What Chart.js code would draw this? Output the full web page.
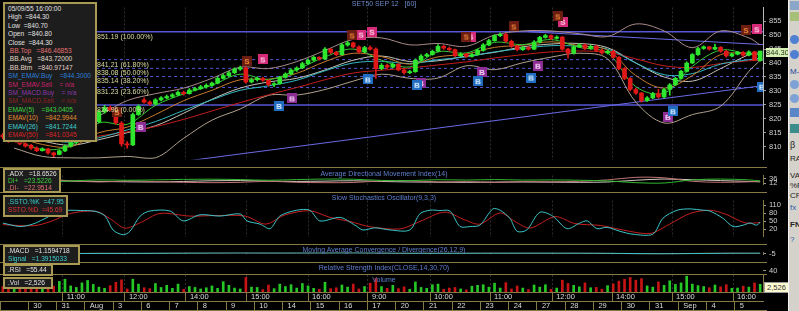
<!DOCTYPE html>
<html>
<head>
<meta charset="utf-8">
<title>SET50 SEP 12 [60]</title>
<script src="https://cdn.jsdelivr.net/npm/chart.js@4.4.1/dist/chart.umd.min.js"></script>
<style>
  html, body { margin: 0; padding: 0; background: #000; }
  body { width: 799px; height: 311px; position: relative; overflow: hidden; font-family: 'Liberation Sans', Arial, sans-serif; }
  canvas { position: absolute; left: 0; }
  .sep { position: absolute; left: 0; width: 767px; height: 1px; background: #857a45; z-index: 3; }
  .box { position: absolute; left: 3px; background: #1d1d1d; border: 2px solid #a89a55; font-size: 6.6px; line-height: 8.4px; padding: 0 3px; white-space: pre; color: #e2e2e2; z-index: 5; overflow: hidden; }
  .ttl { position: absolute; left: 0; width: 768px; text-align: center; font-size: 7px; color: #5f7fcf; z-index: 4; white-space: nowrap; }
  .tag { position: absolute; font-size: 7.5px; line-height: 9px; text-align: center; z-index: 5; }
  #side { position: absolute; left: 788px; top: 0; width: 11px; height: 311px; background: #d5d2cb; border-left: 1px solid #f2f2f2; overflow: hidden; z-index: 6; }
  #side i { position: absolute; left: 1px; width: 9px; height: 9px; }
  #side b { position: absolute; left: 1px; font-size: 8px; font-weight: normal; color: #222; white-space: nowrap; }
</style>
</head>
<body>
<canvas id="cMain" width="788" height="167" style="top:0"></canvas>
<canvas id="cAdx" width="788" height="24" style="top:168px"></canvas>
<canvas id="cSto" width="788" height="51" style="top:193px"></canvas>
<canvas id="cMacd" width="788" height="17" style="top:245px"></canvas>
<canvas id="cRsi" width="788" height="11" style="top:263px"></canvas>
<canvas id="cVol" width="788" height="36" style="top:275px"></canvas>

<div class="sep" style="top:167px"></div>
<div class="sep" style="top:192px"></div>
<div class="sep" style="top:244px"></div>
<div class="sep" style="top:262px"></div>
<div class="sep" style="top:274px"></div>
<div class="sep" style="top:310px"></div>

<div class="ttl" style="top:0px;color:#6a88c8">SET50 SEP 12&nbsp;&nbsp;&nbsp;[60]</div>
<div class="ttl" style="top:170px">Average Directional Movement Index(14)</div>
<div class="ttl" style="top:194px">Slow Stochastics Oscillator(9,3,3)</div>
<div class="ttl" style="top:246px">Moving Average Convergence / Divergence(26,12,9)</div>
<div class="ttl" style="top:264px">Relative Strength Index(CLOSE,14,30,70)</div>
<div class="ttl" style="top:276px">Volume</div>

<div class="box" style="top:2px;width:84px;height:135px;padding-top:1px"><div>05/09/55 16:00:00</div><div>High  =844.30</div><div>Low  =840.70</div><div>Open  =840.80</div><div>Close  =844.30</div><div style="color:#e27070">.BB.Top   =846.46853</div><div style="color:#e4dccb">.BB.Avg   =843.72000</div><div style="color:#e4d0c8">.BB.Btm   =840.97147</div><div style="color:#2c7ed8">SM_EMAV.Buy    =844.3000</div><div style="color:#c8226c">SM_EMAV.Sell    = n/a</div><div style="color:#8a38a8">SM_MACD.Buy    = n/a</div><div style="color:#8c2222">SM_MACD.Sell    = n/a</div><div style="color:#3ed23e">EMAV(5)    =843.0405</div><div style="color:#e08a30">EMAV(10)    =842.9944</div><div style="color:#3ed0d0">EMAV(26)    =841.7244</div><div style="color:#d82424">EMAV(50)    =841.0345</div></div>
<div class="box" style="top:168px;width:48px;height:21px;line-height:7px;padding-top:0"><div>.ADX   =18.6526</div><div style="color:#3ed23e">DI+   =23.5226</div><div style="color:#e07070">.DI-   =22.9514</div></div>
<div class="box" style="top:195px;width:55px;height:17px;padding-top:1px"><div style="color:#3ed0d0">.SSTO.%K  =47.95</div><div style="color:#e03030">SSTO.%D  =45.69</div></div>
<div class="box" style="top:245px;width:67px;height:16px;padding-top:0"><div>.MACD   =1.1594718</div><div style="color:#3ed0d0">Signal   =1.3915033</div></div>
<div class="box" style="top:264px;width:40px;height:8px;line-height:8px"><div>.RSI   =55.44</div></div>
<div class="box" style="top:277px;width:40px;height:8px;line-height:8px"><div>.Vol   =2,526</div></div>

<div class="tag" style="left:766px;top:48px;width:22px;height:9px;background:#d6f0b4;color:#1e3018">844.30</div>
<div class="tag" style="left:764px;top:282px;width:23px;height:9px;background:#fffbd0;color:#333;border:1px solid #999">2,526</div>

<div id="side">
  <i style="top:1px;background:#8aa6c8"></i>
  <i style="top:12px;background:#a6c07a"></i>
  <i style="top:35px;background:#4f7fd0;border-radius:5px"></i>
  <i style="top:50px;background:#4f7fd0;border-radius:5px"></i>
  <b style="top:67px;color:#2044a0">M-</b>
  <i style="top:80px;background:#7ea2d6;border-radius:5px"></i>
  <i style="top:94px;background:#7ea2d6;border-radius:5px"></i>
  <i style="top:108px;background:#5a86c8"></i>
  <i style="top:124px;background:#3c8c8c"></i>
  <b style="top:140px;font-size:9px">β</b>
  <b style="top:154px">RA</b>
  <b style="top:171px">VA</b>
  <b style="top:181px">%P</b>
  <b style="top:191px">CP</b>
  <b style="top:203px;color:#2c5aa8">fx</b>
  <b style="top:220px;font-weight:bold">FN</b>
  <b style="top:235px;color:#2c5aa8">?</b>
</div>

<script>
// hourly candles, 5 per trading day (27 Jul .. 5 Sep)
const opens = [
  814.2, 813.5, 812.0, 812.8, 811.0,
  810.5, 809.5, 808.6, 809.2, 807.8,
  807.2, 808.5, 810.2, 811.5, 812.0,
  814.0, 816.0, 819.0, 822.5, 824.0,
  823.0, 818.5, 811.0, 810.6, 821.5,
  826.8, 826.0, 825.3, 826.8, 827.5,
  828.0, 828.6, 829.5, 829.0, 830.3,
  830.8, 831.5, 832.0, 832.8, 834.5,
  835.5, 836.5, 837.8, 838.3, 833.2,
  834.0, 834.5, 833.8, 832.2, 832.6,
  834.8, 836.0, 837.5, 838.2, 839.8,
  841.0, 842.0, 841.5, 845.0, 843.8,
  843.0, 846.5, 847.2, 845.8, 844.0,
  845.5, 845.0, 838.0, 839.2, 838.5,
  839.5, 837.5, 836.5, 836.9, 841.0,
  842.5, 843.0, 844.2, 846.0, 845.3,
  844.8, 842.6, 843.2, 842.4, 843.0,
  844.5, 846.5, 848.0, 849.8, 850.3,
  847.8, 846.0, 844.8, 845.5, 845.0,
  847.5, 849.2, 849.8, 848.8, 849.3,
  845.0, 843.5, 845.8, 846.5, 845.2,
  846.0, 844.5, 843.6, 844.2, 842.0,
  838.0, 834.5, 830.5, 829.2, 826.5,
  827.5, 829.0, 827.8, 830.5, 832.2,
  834.5, 837.0, 840.0, 843.0, 845.2,
  845.8, 845.0, 845.6, 844.2, 842.5,
  843.2, 843.8, 842.8, 844.0, 840.8
];
const highs = [
  814.8, 813.9, 813.2, 813.0, 811.4,
  810.8, 809.9, 809.6, 809.4, 808.1,
  808.9, 810.6, 811.9, 812.6, 814.0,
  816.5, 819.5, 823.0, 824.8, 824.6,
  823.4, 819.0, 811.8, 822.0, 825.0,
  827.5, 826.4, 827.2, 828.0, 828.5,
  829.0, 830.0, 829.9, 830.8, 831.3,
  832.0, 832.5, 833.2, 835.0, 836.0,
  837.0, 838.3, 838.9, 838.6, 834.6,
  835.0, 834.9, 834.0, 833.0, 835.2,
  836.5, 837.9, 838.6, 840.3, 841.5,
  842.5, 842.3, 845.5, 845.3, 844.2,
  847.0, 847.8, 847.5, 846.2, 846.0,
  846.2, 845.4, 839.8, 839.6, 840.0,
  839.8, 837.9, 837.4, 841.5, 843.0,
  843.5, 844.6, 846.6, 846.3, 845.7,
  845.0, 843.7, 843.5, 843.5, 845.0,
  847.0, 848.5, 850.2, 850.8, 850.6,
  848.2, 846.4, 846.0, 845.9, 848.0,
  849.6, 850.3, 850.1, 849.7, 849.6,
  845.3, 846.2, 847.0, 846.8, 846.4,
  846.3, 844.9, 844.6, 844.5, 842.3,
  838.4, 834.8, 831.0, 829.5, 828.0,
  829.5, 830.6, 830.9, 832.6, 834.9,
  837.4, 840.4, 843.4, 845.6, 846.2,
  846.0, 846.8, 845.9, 844.5, 843.6,
  844.2, 844.1, 844.4, 844.3, 844.3
];
const lows = [
  812.9, 811.5, 811.8, 810.6, 809.8,
  809.0, 808.2, 808.4, 807.3, 806.4,
  807.0, 808.2, 809.8, 811.0, 811.8,
  813.8, 815.6, 818.6, 822.0, 822.8,
  818.0, 810.2, 809.5, 810.4, 821.2,
  825.6, 824.8, 825.0, 826.4, 827.1,
  827.6, 828.3, 828.5, 828.8, 830.0,
  830.5, 831.0, 831.6, 832.5, 834.2,
  835.2, 836.2, 837.3, 832.8, 832.9,
  833.6, 833.4, 831.8, 831.5, 832.4,
  834.6, 835.7, 837.0, 838.0, 839.5,
  840.7, 841.0, 841.2, 843.3, 842.6,
  842.8, 846.0, 845.4, 843.5, 843.7,
  844.6, 834.5, 837.6, 838.0, 838.2,
  837.2, 836.0, 836.2, 836.6, 840.7,
  842.2, 842.8, 844.0, 844.9, 844.3,
  842.2, 842.3, 842.0, 842.1, 842.7,
  844.2, 846.2, 847.7, 849.4, 847.4,
  845.6, 844.3, 844.5, 844.6, 844.8,
  847.2, 848.9, 848.4, 848.5, 844.6,
  841.8, 843.2, 845.5, 844.8, 844.9,
  844.1, 843.2, 843.3, 841.6, 837.5,
  834.0, 830.0, 828.7, 826.0, 826.2,
  827.2, 827.4, 827.5, 828.5, 831.9,
  834.2, 836.8, 839.8, 842.7, 844.9,
  844.6, 844.7, 843.8, 842.1, 842.2,
  842.9, 842.4, 842.5, 840.8, 840.7
];
const closes = [
  813.5, 812.0, 812.8, 811.0, 810.2,
  809.5, 808.6, 809.2, 807.8, 807.0,
  808.5, 810.2, 811.5, 812.0, 813.6,
  816.0, 819.0, 822.5, 824.0, 823.2,
  818.5, 811.0, 810.6, 821.5, 824.5,
  826.0, 825.3, 826.8, 827.5, 828.0,
  828.6, 829.5, 829.0, 830.3, 830.8,
  831.5, 832.0, 832.8, 834.5, 835.5,
  836.5, 837.8, 838.3, 833.2, 834.0,
  834.5, 833.8, 832.2, 832.6, 834.8,
  836.0, 837.5, 838.2, 839.8, 841.0,
  842.0, 841.5, 845.0, 843.8, 843.0,
  846.5, 847.2, 845.8, 844.0, 845.5,
  845.0, 838.0, 839.2, 838.5, 839.5,
  837.5, 836.5, 836.9, 841.0, 842.5,
  843.0, 844.2, 846.0, 845.3, 844.8,
  842.6, 843.2, 842.4, 843.0, 844.5,
  846.5, 848.0, 849.8, 850.3, 847.8,
  846.0, 844.8, 845.5, 845.0, 847.5,
  849.2, 849.8, 848.8, 849.3, 845.0,
  843.5, 845.8, 846.5, 845.2, 846.0,
  844.5, 843.6, 844.2, 842.0, 838.0,
  834.5, 830.5, 829.2, 826.5, 827.5,
  829.0, 827.8, 830.5, 832.2, 834.5,
  837.0, 840.0, 843.0, 845.2, 845.8,
  845.0, 845.6, 844.2, 842.5, 843.2,
  843.8, 842.8, 844.0, 841.2, 844.3
];
const volumes = [
  1800, 2600, 1200, 2200, 3000,
  1500, 2800, 1000, 2400, 1900,
  3500, 4200, 2000, 1500, 3000,
  3800, 2500, 1600, 1200, 2100,
  3200, 4000, 1000, 4200, 2600,
  1400, 1100, 2800, 1500, 2200,
  1200, 2600, 900, 1800, 1500,
  1000, 1400, 2000, 1200, 3400,
  2200, 1300, 1000, 4800, 1600,
  1500, 800, 2300, 1100, 2600,
  1800, 2400, 1300, 2800, 2000,
  1200, 900, 3200, 1100, 1400,
  2300, 1600, 2600, 1000, 1800,
  2900, 4400, 1800, 1200, 2200,
  1100, 1700, 900, 3300, 1500,
  1200, 2400, 2600, 900, 1300,
  1500, 1000, 700, 1900, 2200,
  2400, 1600, 2900, 1300, 3100,
  1000, 2000, 1300, 800, 2300,
  1600, 2400, 900, 1300, 3900,
  2800, 2200, 1700, 3000, 1400,
  1500, 900, 2100, 2700, 3600,
  4200, 4800, 3900, 4400, 2000,
  1600, 3300, 2200, 3700, 2500,
  3000, 5200, 2600, 2100, 1800,
  1400, 2300, 1700, 2400, 1200,
  1300, 1900, 1600, 3000, 2526
];

// indicator samples: one per day (mid-day bar) plus the last bar
const sampleBars = [2, 7, 12, 17, 22, 27, 32, 37, 42, 47, 52, 57, 62, 67, 72, 77, 82, 87, 92, 97, 102, 107, 112, 117, 122, 127, 132, 134];
const ema5  = [812.8, 809.0, 810.5, 818.5, 818.0, 824.8, 828.9, 832.0, 836.0, 834.0, 837.6, 842.2, 845.0, 841.0, 838.6, 844.0, 843.6, 847.4, 846.6, 848.4, 845.6, 843.6, 831.5, 829.2, 838.8, 844.6, 843.2, 843.04];
const ema10 = [813.8, 810.8, 810.0, 815.0, 817.0, 821.5, 826.5, 830.2, 834.0, 834.2, 836.3, 840.5, 843.5, 842.3, 839.6, 842.2, 843.2, 845.6, 846.4, 847.6, 846.2, 844.6, 835.5, 831.0, 835.5, 843.0, 843.3, 842.99];
const ema26 = [814.5, 812.8, 811.6, 813.2, 816.0, 819.0, 823.0, 826.8, 830.2, 831.8, 833.8, 837.2, 840.0, 840.6, 839.8, 841.2, 842.2, 844.0, 845.2, 846.2, 846.0, 845.0, 840.0, 835.8, 836.2, 839.6, 841.2, 841.72];
const ema50 = [812.5, 812.0, 812.0, 813.8, 815.3, 817.2, 819.8, 822.8, 825.8, 828.6, 831.2, 834.0, 836.4, 837.4, 838.2, 839.3, 840.4, 841.8, 843.0, 844.0, 844.3, 843.8, 841.5, 839.0, 838.4, 839.8, 840.8, 841.03];
const bbTop = [818.5, 817.0, 815.5, 821.0, 826.5, 829.0, 831.0, 834.5, 838.5, 838.0, 840.5, 844.5, 848.5, 849.0, 846.5, 847.0, 846.0, 850.0, 851.5, 851.5, 850.5, 849.5, 854.0, 851.5, 845.5, 851.5, 849.0, 846.47];
const bbAvg = [814.0, 812.0, 810.5, 812.5, 815.0, 817.5, 822.0, 827.0, 831.0, 833.2, 834.5, 837.5, 841.0, 842.5, 840.5, 840.8, 842.5, 843.8, 845.8, 846.8, 847.0, 845.5, 840.0, 835.0, 833.5, 838.0, 843.0, 843.72];
const bbBtm = [809.5, 806.5, 806.0, 806.0, 806.5, 806.0, 813.0, 819.5, 823.5, 828.4, 828.5, 830.5, 833.5, 836.0, 834.5, 834.6, 839.0, 837.6, 840.1, 842.1, 843.5, 841.5, 826.0, 818.5, 821.5, 824.5, 837.0, 840.97];
const adx     = [24, 26, 23, 21, 19, 18, 21, 25, 26, 23, 21, 23, 25, 21, 18, 17, 16, 17, 18, 17, 16, 18, 28, 35, 31, 26, 21, 18.65];
const diPlus  = [22, 18, 24, 30, 28, 30, 33, 34, 32, 28, 32, 35, 34, 27, 26, 31, 29, 32, 29, 30, 28, 24, 14, 12, 30, 35, 30, 23.52];
const diMinus = [30, 34, 25, 18, 24, 20, 16, 14, 16, 22, 16, 14, 15, 24, 25, 18, 20, 16, 20, 19, 22, 30, 45, 42, 22, 16, 19, 22.95];
const macd    = [-1.5, -2.5, -2.0, 0.5, -0.5, 1.0, 2.2, 2.8, 3.2, 2.5, 2.8, 3.2, 3.5, 1.5, 0.2, 1.0, 1.0, 1.8, 1.6, 1.5, 0.9, -0.5, -4.0, -4.6, -1.0, 1.8, 1.6, 1.16];
const signal  = [-1.0, -1.8, -2.2, -1.0, -0.4, 0.2, 1.3, 2.2, 2.8, 2.8, 2.7, 3.0, 3.3, 2.5, 1.2, 0.9, 1.0, 1.4, 1.6, 1.5, 1.2, 0.3, -2.5, -4.0, -2.8, -0.2, 1.3, 1.39];
const rsi     = [42, 36, 48, 62, 50, 60, 64, 67, 62, 55, 66, 67, 68, 50, 52, 60, 56, 65, 58, 60, 55, 45, 28, 40, 64, 57, 56, 55.44];

// slow stochastics, [bar, value]
const stochK = [[0,44],[3,31],[5.3,40],[7.1,57],[8.3,70],[10.1,89],[11.9,92],[13.7,91],[16.3,88],[18.1,70],[19.5,18],[21.3,0],[22.5,13],[24.3,70],[26,89],[29.6,89],[31.9,52],[34.9,75],[38.4,70],[42,78],[43.2,52],[45.5,40],[47.3,23],[49,70],[52,92],[54.3,92],[56.1,52],[59.7,65],[62.3,36],[63.7,18],[65.9,26],[68.5,18],[72,18],[73.8,79],[75.6,92],[77.3,91],[79.1,89],[80.9,31],[82.7,31],[84.4,36],[86.7,97],[88,92],[89.7,62],[91,13],[92.7,18],[95,84],[97.3,70],[99.8,23],[102.1,44],[103.4,52],[105.1,23],[106.9,28],[109.2,13],[111.5,2],[115,2],[116.8,62],[119.3,92],[121.6,97],[123.9,92],[125.1,89],[127.4,62],[129.2,31],[131,36],[132.2,44],[133.4,36],[134,47.95]];
const stochD = [[0,38],[5.5,34],[8.5,50],[12,80],[16.5,88],[19,60],[21.6,25],[24.3,45],[27.8,80],[33.1,70],[37.5,72],[42.9,70],[46.5,40],[50,75],[54.3,90],[57.9,65],[61.4,50],[65,30],[70.3,22],[73.8,50],[78.2,85],[81.8,55],[84.4,40],[88,82],[90.6,50],[93.3,25],[97.7,68],[101.2,42],[105.7,35],[109.2,20],[114.5,5],[118,40],[121.6,80],[125.1,92],[127.8,78],[131.3,45],[134,45.69]];

// fibonacci retracement and trend lines
const fibLevels = [851.19, 841.21, 838.08, 835.14, 831.23, 824.96];
const fibNames = ['100.00%', '61.80%', '50.00%', '38.20%', '23.60%', '0.00%'];
const fibStartBar = 16.5;
const trendUp = [[33, 805], [134.5, 831.9]];
const trendDown = [[93, 851.2], [134.5, 846.6]];

// system signals [bar, price]
const sellDark = [[3,813.2],[20.2,822.4],[43.2,840.7],[61.8,849.9],[82,849.5],[90.4,853.1],[98.2,856.7],[131.5,851.8]];
const sellPink = [[46,841.3],[63.4,850.2],[65.3,851.2],[82.8,849.5],[99.1,854.8],[133.4,852.1]];
const buyBlue = [[48.9,824.6],[64.6,834.1],[73.3,832.2],[84.1,833.5],[93.5,834.8],[118.6,822.7],[134.3,831.5]];
const buyPurple = [[24.4,817.1],[51.2,827.3],[74,832.8],[84.8,836.8],[94.7,839.0],[117.7,820.7]];

// axes
const priceTicks = [855, 850, 845, 840, 835, 830, 825, 820, 815, 810];
const timeTickBars = [10.6, 21.6, 32.4, 43.2, 54.0, 64.6, 75.6, 86.2, 97.2, 107.8, 118.4, 129.2];
const timeTickLabels = ['11:00', '12:00', '14:00', '15:00', '16:00', '9:00', '10:00', '11:00', '12:00', '14:00', '15:00', '16:00'];
const dayStartBars = [-0.5, 4.5, 9.5, 14.5, 19.5, 24.5, 29.5, 34.5, 39.5, 44.5, 49.5, 54.5, 59.5, 64.5, 69.5, 74.5, 79.5, 84.5, 89.5, 94.5, 99.5, 104.5, 109.5, 114.5, 119.5, 124.5, 129.5];
const dayLabels = ['', '30', '31', 'Aug', '3', '6', '7', '8', '9', '10', '14', '15', '16', '17', '20', '21', '22', '23', '24', '27', '28', '29', '30', '31', 'Sep', '4', '5'];

const FONT = 'Liberation Sans';
const OLIVE = '#857a45';
const BAR_MIN = -0.5, BAR_MAX = closes.length - 0.5;
Chart.defaults.font.family = FONT;

function xAxis() {
  return {
    type: 'linear', min: BAR_MIN, max: BAR_MAX, position: 'bottom', offset: false,
    afterBuildTicks: s => { s.ticks = timeTickBars.map(v => ({value: v})); },
    afterFit: s => { s.height = 0; },
    ticks: {display: false},
    grid: {color: '#2e2e2e', drawTicks: false, offset: false},
    border: {display: false, dash: [2, 2]}
  };
}
function yAxis(min, max, ticks, borderColor) {
  return {
    position: 'right', min, max,
    afterBuildTicks: s => { s.ticks = ticks.map(v => ({value: v})); },
    afterFit: s => { s.width = 25; },
    ticks: {color: '#cfcfcf', font: {size: 7.5}, padding: 3, autoSkip: false},
    grid: {drawOnChartArea: false, tickLength: 3, tickColor: '#9a9a9a'},
    border: {color: borderColor}
  };
}
function baseOpts(scales) {
  return {
    responsive: false, animation: false, events: [],
    layout: {autoPadding: false, padding: 0},
    plugins: {legend: {display: false}, tooltip: {enabled: false}},
    scales
  };
}
const atBars = vals => vals.map((y, k) => ({x: sampleBars[k], y}));
const pairs = list => list.map(([x, y]) => ({x, y}));
function lineSet(data, color, order, extra) {
  return Object.assign({type: 'line', data, borderColor: color, borderWidth: 1, pointRadius: 0, tension: 0.35, order}, extra || {});
}
function mark(letter, bg, fg) {
  const c = document.createElement('canvas');
  c.width = 10; c.height = 10;
  const g = c.getContext('2d');
  g.fillStyle = bg; g.fillRect(0, 0, 10, 10);
  g.fillStyle = fg; g.font = 'bold 8px ' + FONT;
  g.textAlign = 'center'; g.textBaseline = 'middle';
  g.fillText(letter, 5, 5.5);
  return c;
}
const markerSet = (list, img) => ({type: 'line', showLine: false, data: pairs(list), pointStyle: img, pointRadius: 5, order: 0});

const candleColor = closes.map((c, i) => c >= opens[i] ? '#2ee62e' : '#e01818');
const volColor = closes.map((c, i) => c >= opens[i] ? '#25c825' : '#c81414');

// fib level captions
const fibText = {
  id: 'fibText',
  afterDatasetsDraw(chart) {
    const {ctx, scales: {x, y}} = chart;
    ctx.save();
    ctx.font = '7px ' + FONT;
    ctx.fillStyle = '#dcdca2';
    ctx.textBaseline = 'top';
    fibLevels.forEach((v, k) => {
      ctx.fillText(v.toFixed(2) + ' (' + fibNames[k] + ')', x.getPixelForValue(fibStartBar) + 1, y.getPixelForValue(v) + 1.5);
    });
    ctx.restore();
  }
};

const last = fibLevels.length - 1;
const fibSets = fibLevels.map((v, k) => lineSet(
  [{x: fibStartBar, y: v}, {x: BAR_MAX, y: v}], '#5656d6', 5,
  {tension: 0, borderDash: (k === 0 || k === last) ? [] : [3, 3], borderWidth: (k === 0 || k === last) ? 1.5 : 1}
));

new Chart(document.getElementById('cMain'), {
  type: 'bar',
  data: {datasets: [
    markerSet(sellDark, mark('S', '#6b1d12', '#f08a3c')),
    markerSet(sellPink, mark('S', '#d42a78', '#ffd6e8')),
    markerSet(buyBlue, mark('B', '#1f6cc0', '#dcefff')),
    markerSet(buyPurple, mark('B', '#8e2c96', '#f4d6f6')),
    {type: 'bar', data: closes.map((c, i) => ({x: i, y: [opens[i], c]})), backgroundColor: candleColor, barThickness: 4, grouped: false, minBarLength: 1, order: 1},
    {type: 'bar', data: closes.map((c, i) => ({x: i, y: [lows[i], highs[i]]})), backgroundColor: candleColor, barThickness: 1, grouped: false, order: 2},
    lineSet(atBars(ema5), '#36c936', 3),
    lineSet(atBars(ema10), '#c47a30', 3),
    lineSet(atBars(ema26), '#34b8c0', 3),
    lineSet(atBars(ema50), '#c41c1c', 3),
    lineSet(atBars(bbAvg), '#c4c2b6', 4),
    lineSet(atBars(bbTop), '#a98a8a', 4),
    lineSet(atBars(bbBtm), '#b0a08e', 4),
    lineSet(pairs(trendUp), '#6a6ae6', 5, {tension: 0}),
    lineSet(pairs(trendDown), '#6a6ae6', 5, {tension: 0}),
    ...fibSets
  ]},
  options: baseOpts({x: xAxis(), y: yAxis(805.4, 859.9, priceTicks, '#b8b8b8')}),
  plugins: [fibText]
});

new Chart(document.getElementById('cAdx'), {
  type: 'line',
  data: {datasets: [
    lineSet(atBars(diPlus), '#2fb82f', 1),
    lineSet(atBars(diMinus), '#c07474', 2),
    lineSet(atBars(adx), '#d2cabe', 3)
  ]},
  options: baseOpts({x: xAxis(), y: yAxis(3.3, 55.6, [36, 12], OLIVE)})
});

new Chart(document.getElementById('cSto'), {
  type: 'line',
  data: {datasets: [
    lineSet(pairs(stochK), '#3cc4c8', 1, {tension: 0.3}),
    lineSet(pairs(stochD), '#c42020', 2, {tension: 0.3})
  ]},
  options: baseOpts({x: xAxis(), y: yAxis(-6.5, 128.5, [110, 80, 50, 20], OLIVE)})
});

new Chart(document.getElementById('cMacd'), {
  type: 'line',
  data: {datasets: [
    lineSet(atBars(signal), '#3cc4c8', 1),
    lineSet(atBars(macd), '#a08a7c', 2)
  ]},
  options: baseOpts({x: xAxis(), y: yAxis(-9.4, 5.6, [-5], OLIVE)})
});

new Chart(document.getElementById('cRsi'), {
  type: 'line',
  data: {datasets: [lineSet(atBars(rsi), '#8a7464', 1)]},
  options: baseOpts({x: xAxis(), y: yAxis(20, 75, [40], OLIVE)})
});

const timeAxis = Object.assign(xAxis(), {
  weight: 0,
  afterFit: s => { s.height = 9; },
  ticks: {display: true, autoSkip: false, maxRotation: 0, align: 'start', labelOffset: 4, padding: -9,
          color: '#dcdcdc', font: {size: 7.5}, callback: (v, k) => timeTickLabels[k]},
  grid: {color: '#2e2e2e', tickColor: OLIVE, tickLength: 9, offset: false},
  border: {display: true, color: OLIVE, dash: [2, 2]}
});
const dateAxis = {
  type: 'linear', min: BAR_MIN, max: BAR_MAX, position: 'bottom', weight: 1, offset: false,
  afterBuildTicks: s => { s.ticks = dayStartBars.map(v => ({value: v})); },
  afterFit: s => { s.height = 10; },
  ticks: {autoSkip: false, maxRotation: 0, align: 'start', labelOffset: 5, padding: -10,
          color: '#dcdcdc', font: {size: 7.5}, callback: (v, k) => dayLabels[k]},
  grid: {drawOnChartArea: false, tickColor: OLIVE, tickLength: 10, offset: false},
  border: {color: OLIVE}
};
const volY = yAxis(0, 5600, [], OLIVE);

new Chart(document.getElementById('cVol'), {
  type: 'bar',
  data: {datasets: [
    {data: volumes.map((v, i) => ({x: i, y: v})), backgroundColor: volColor, barThickness: 2}
  ]},
  options: baseOpts({x: timeAxis, xDate: dateAxis, y: volY})
});
</script>
</body>
</html>
